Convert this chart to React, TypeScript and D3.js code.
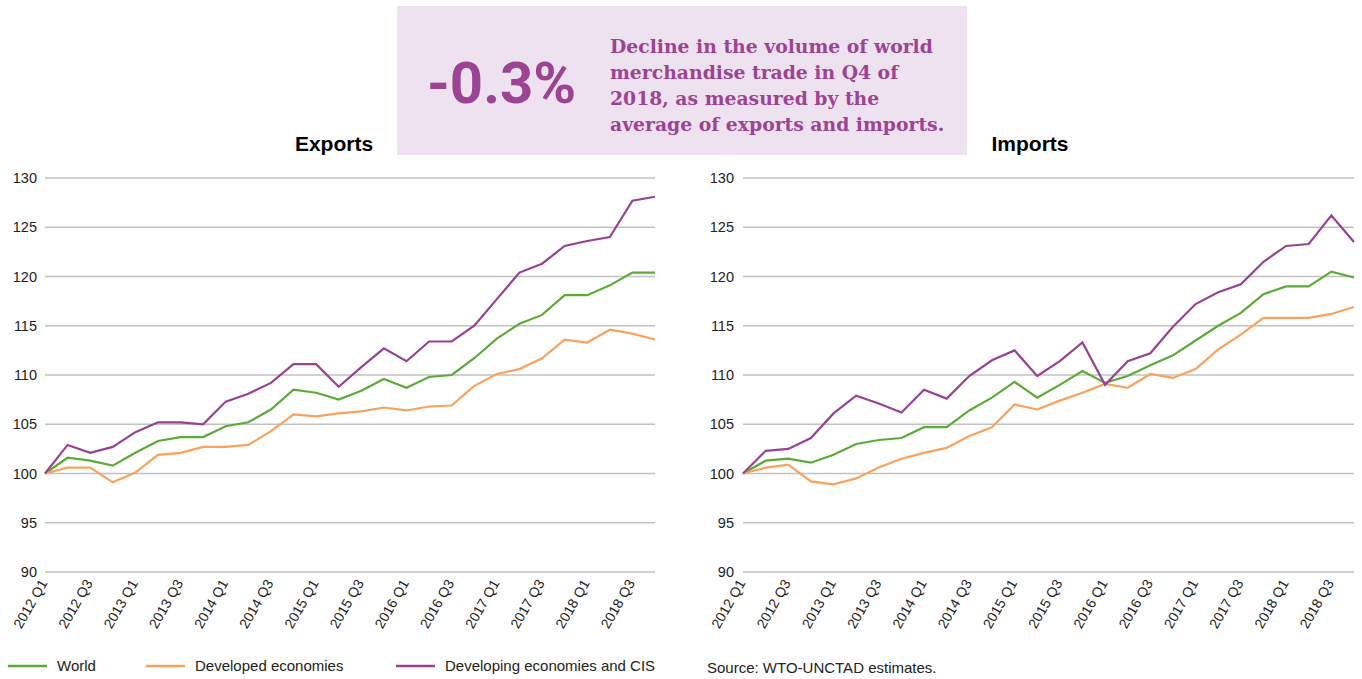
import React from 'react'
import { scaleLinear, scalePoint, line } from 'd3'

const quarters = [
  '2012 Q1', '2012 Q2', '2012 Q3', '2012 Q4',
  '2013 Q1', '2013 Q2', '2013 Q3', '2013 Q4',
  '2014 Q1', '2014 Q2', '2014 Q3', '2014 Q4',
  '2015 Q1', '2015 Q2', '2015 Q3', '2015 Q4',
  '2016 Q1', '2016 Q2', '2016 Q3', '2016 Q4',
  '2017 Q1', '2017 Q2', '2017 Q3', '2017 Q4',
  '2018 Q1', '2018 Q2', '2018 Q3', '2018 Q4',
]

const yTicks = [90, 95, 100, 105, 110, 115, 120, 125, 130]

// Exports
const exportsWorld = [
  100, 101.6, 101.3, 100.8, 102.1, 103.3, 103.7, 103.7, 104.8, 105.2, 106.5, 108.5, 108.2, 107.5,
  108.4, 109.6, 108.7, 109.8, 110.0, 111.7, 113.7, 115.2, 116.1, 118.1, 118.1, 119.1, 120.4, 120.4,
]
const exportsDeveloped = [
  100, 100.6, 100.6, 99.1, 100.1, 101.9, 102.1, 102.7, 102.7, 102.9, 104.3, 106.0, 105.8, 106.1,
  106.3, 106.7, 106.4, 106.8, 106.9, 108.9, 110.1, 110.6, 111.7, 113.6, 113.3, 114.6, 114.2, 113.6,
]
const exportsDeveloping = [
  100, 102.9, 102.1, 102.7, 104.2, 105.2, 105.2, 105.0, 107.3, 108.1, 109.2, 111.1, 111.1, 108.8,
  110.8, 112.7, 111.4, 113.4, 113.4, 115.0, 117.7, 120.4, 121.3, 123.1, 123.6, 124.0, 127.7, 128.1,
]

// Imports
const importsWorld = [
  100, 101.3, 101.5, 101.1, 101.9, 103.0, 103.4, 103.6, 104.7, 104.7, 106.4, 107.7, 109.3, 107.7,
  109.0, 110.4, 109.2, 109.9, 111.0, 112.0, 113.5, 115.0, 116.3, 118.2, 119.0, 119.0, 120.5, 119.9,
]
const importsDeveloped = [
  100, 100.6, 100.9, 99.2, 98.9, 99.5, 100.6, 101.5, 102.1, 102.6, 103.8, 104.7, 107.0, 106.5,
  107.4, 108.2, 109.1, 108.7, 110.1, 109.7, 110.6, 112.6, 114.1, 115.8, 115.8, 115.8, 116.2, 116.9,
]
const importsDeveloping = [
  100, 102.3, 102.5, 103.6, 106.1, 107.9, 107.1, 106.2, 108.5, 107.6, 109.9, 111.5, 112.5, 109.9,
  111.4, 113.3, 109.0, 111.4, 112.2, 114.9, 117.2, 118.4, 119.2, 121.5, 123.1, 123.3, 126.2, 123.5,
]

const seriesNames = ['World', 'Developed economies', 'Developing economies and CIS']
const colors = ['#5cab38', '#f9a25e', '#984292']

const FONT = '"Liberation Sans", Arial, sans-serif'
const top = 178
const bottom = 572

function Panel({ title, titleX, left, right, labelX, data }) {
  const x = scalePoint().domain(quarters).range([left, right])
  const y = scaleLinear().domain([90, 130]).range([bottom, top])
  const path = line().x((d, i) => x(quarters[i])).y(d => y(d))

  return (
    <g>
      <text x={titleX} y={151} textAnchor="middle" fontFamily={FONT} fontWeight="bold" fontSize={21}>
        {title}
      </text>
      {yTicks.map(t => (
        <g key={t}>
          <line x1={left} x2={right} y1={y(t)} y2={y(t)} stroke="#c2c2c2" strokeWidth={1.3} />
          <text x={labelX} y={y(t)} dy="0.36em" textAnchor="end" fontFamily={FONT} fontSize={14.5} fill="#222">
            {t}
          </text>
        </g>
      ))}
      {quarters.filter((q, i) => i % 2 === 0).map(q => (
        <text
          key={q}
          transform={`translate(${x(q) + 3},${bottom + 11}) rotate(-60)`}
          textAnchor="end"
          fontFamily={FONT}
          fontSize={14}
          fill="#222"
        >
          {q}
        </text>
      ))}
      {data.map((s, k) => (
        <path key={k} d={path(s)} fill="none" stroke={colors[k]} strokeWidth={2.2} strokeLinejoin="miter" />
      ))}
    </g>
  )
}

export default function App() {
  const legendX = [8, 146, 396]
  return (
    <svg width={1362} height={679} style={{ position: 'absolute', left: 0, top: 0, background: '#fff' }}>
      <rect x={397} y={6} width={570} height={149} fill="#efe2f0" />
      <text x={427} y={103} fontFamily="Roboto, sans-serif" fontWeight="bold" fontSize={58} fill="#9c4493">
        -0.3%
      </text>
      {['Decline in the volume of world', 'merchandise trade in Q4 of', '2018, as measured by the', 'average of exports and imports.'].map((l, i) => (
        <text key={i} x={610} y={53 + i * 26} fontFamily='"DejaVu Serif", serif' fontWeight="bold" fontSize={18.8} fill="#9c4493">
          {l}
        </text>
      ))}

      <Panel title="Exports" titleX={334} left={45} right={655} labelX={37}
        data={[exportsWorld, exportsDeveloped, exportsDeveloping]} />
      <Panel title="Imports" titleX={1030} left={743} right={1354} labelX={734}
        data={[importsWorld, importsDeveloped, importsDeveloping]} />

      {seriesNames.map((n, k) => (
        <g key={n}>
          <line x1={legendX[k]} x2={legendX[k] + 39} y1={666} y2={666} stroke={colors[k]} strokeWidth={2.5} />
          <text x={legendX[k] + 49} y={671} fontFamily={FONT} fontSize={15} fill="#222">{n}</text>
        </g>
      ))}
      <text x={707} y={673} fontFamily={FONT} fontSize={15} fill="#222">Source: WTO-UNCTAD estimates.</text>
    </svg>
  )
}
